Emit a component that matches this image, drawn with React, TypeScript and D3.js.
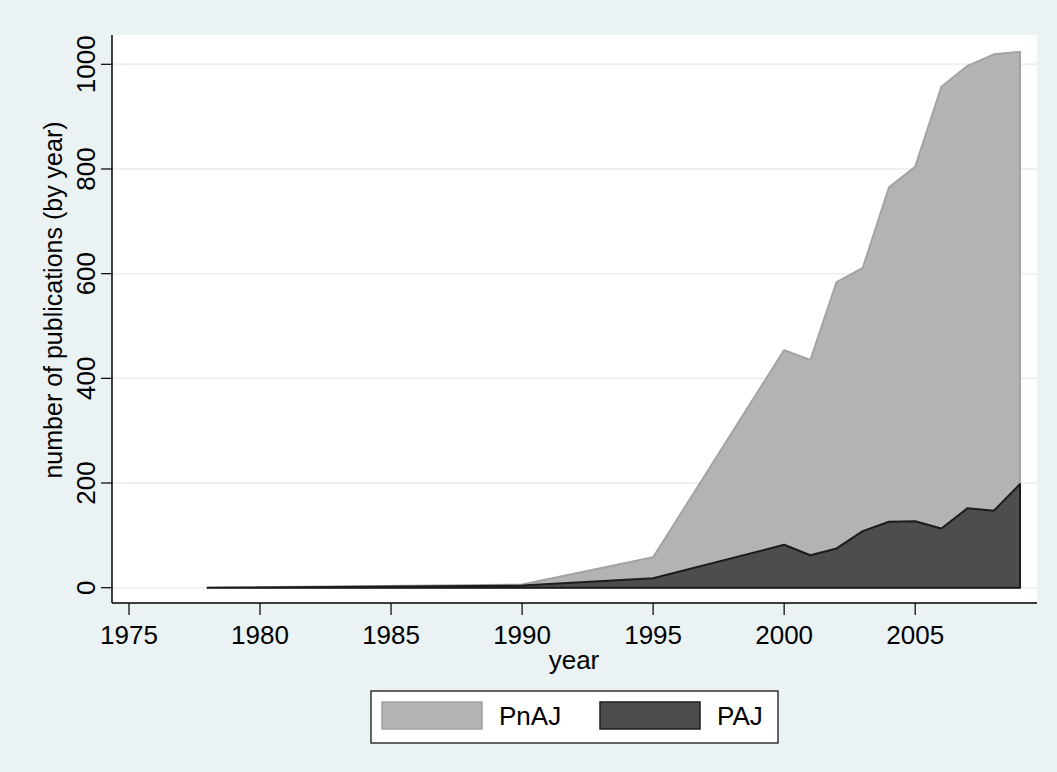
import React from "react";
import * as d3 from "d3";

const years = [1978, 1990, 1995, 2000, 2001, 2002, 2003, 2004, 2005, 2006, 2007, 2008, 2009];
const pnajTotal = [0, 6, 58, 454, 435, 584, 611, 765, 804, 957, 997, 1019, 1024];
const paj = [0, 4, 18, 82, 62, 75, 108, 126, 127, 113, 152, 147, 198];
const xTicks = [1975, 1980, 1985, 1990, 1995, 2000, 2005];
const yTicks = [0, 200, 400, 600, 800, 1000];
const seriesNames = ["PnAJ", "PAJ"];

const W = 1057;
const H = 772;
const BG = "#EAF2F3";
const FONT = "'Liberation Sans', Arial, Helvetica, sans-serif";
const FS = 26;

export default function App() {
  const plotL = 112, plotR = 1037, plotT = 35, plotB = 603;
  const x = d3.scaleLinear().domain([1975, 2009]).range([129, 1020]);
  const y = d3.scaleLinear().domain([0, 1000]).range([587.7, 64.3]);

  const mk = (vals: number[]) =>
    d3
      .area<number>()
      .x((_, i) => x(years[i]))
      .y0(() => y(0))
      .y1((d) => y(d))(vals) || "";

  const lightPath = mk(pnajTotal) + "";
  const darkPath = mk(paj) + "";

  return (
    <svg
      width={W}
      height={H}
      style={{ position: "absolute", left: 0, top: 0, display: "block" }}
      fontFamily={FONT}
    >
      <rect x={0} y={0} width={W} height={H} fill={BG} />
      <rect x={plotL} y={plotT} width={plotR - plotL} height={plotB - plotT} fill="#FFFFFF" />
      {yTicks.map((t) => (
        <line key={"g" + t} x1={plotL} x2={plotR} y1={y(t)} y2={y(t)} stroke={BG} strokeWidth={2} />
      ))}
      <path d={lightPath} fill="#B3B3B3" stroke="#A3A3A3" strokeWidth={2} strokeLinejoin="round" />
      <path d={darkPath} fill="#4D4D4D" stroke="#1C1C1C" strokeWidth={2} strokeLinejoin="round" />

      {/* axes */}
      <line x1={plotL} x2={plotL} y1={plotT} y2={plotB} stroke="#000" strokeWidth={1.5} />
      <line x1={plotL} x2={plotR} y1={plotB} y2={plotB} stroke="#000" strokeWidth={1.5} />
      {yTicks.map((t) => (
        <g key={"y" + t}>
          <line x1={plotL - 11} x2={plotL} y1={y(t)} y2={y(t)} stroke="#000" strokeWidth={1.2} />
          <text
            transform={`translate(${plotL - 17},${y(t)}) rotate(-90)`}
            textAnchor="middle"
            fontSize={FS}
            fill="#000"
          >
            {t}
          </text>
        </g>
      ))}
      {xTicks.map((t) => (
        <g key={"x" + t}>
          <line x1={x(t)} x2={x(t)} y1={plotB} y2={plotB + 12} stroke="#000" strokeWidth={1.2} />
          <text x={x(t)} y={644} textAnchor="middle" fontSize={FS} fill="#000">
            {t}
          </text>
        </g>
      ))}
      <text x={574} y={669} textAnchor="middle" fontSize={FS} fill="#000">
        year
      </text>
      <text
        transform={`translate(62,300) rotate(-90)`}
        textAnchor="middle"
        fontSize={25}
        fill="#000"
      >
        number of publications (by year)
      </text>

      {/* legend */}
      <rect x={371} y={691} width={407} height={52} fill="#FFFFFF" stroke="#000" strokeWidth={1.2} />
      <rect x={382} y={702} width={100} height={27} fill="#B3B3B3" stroke="#A3A3A3" strokeWidth={1.5} />
      <text x={499} y={725} fontSize={FS} fill="#000">
        {seriesNames[0]}
      </text>
      <rect x={600} y={702} width={100} height={27} fill="#4D4D4D" stroke="#1C1C1C" strokeWidth={1.5} />
      <text x={717} y={725} fontSize={FS} fill="#000">
        {seriesNames[1]}
      </text>
    </svg>
  );
}
